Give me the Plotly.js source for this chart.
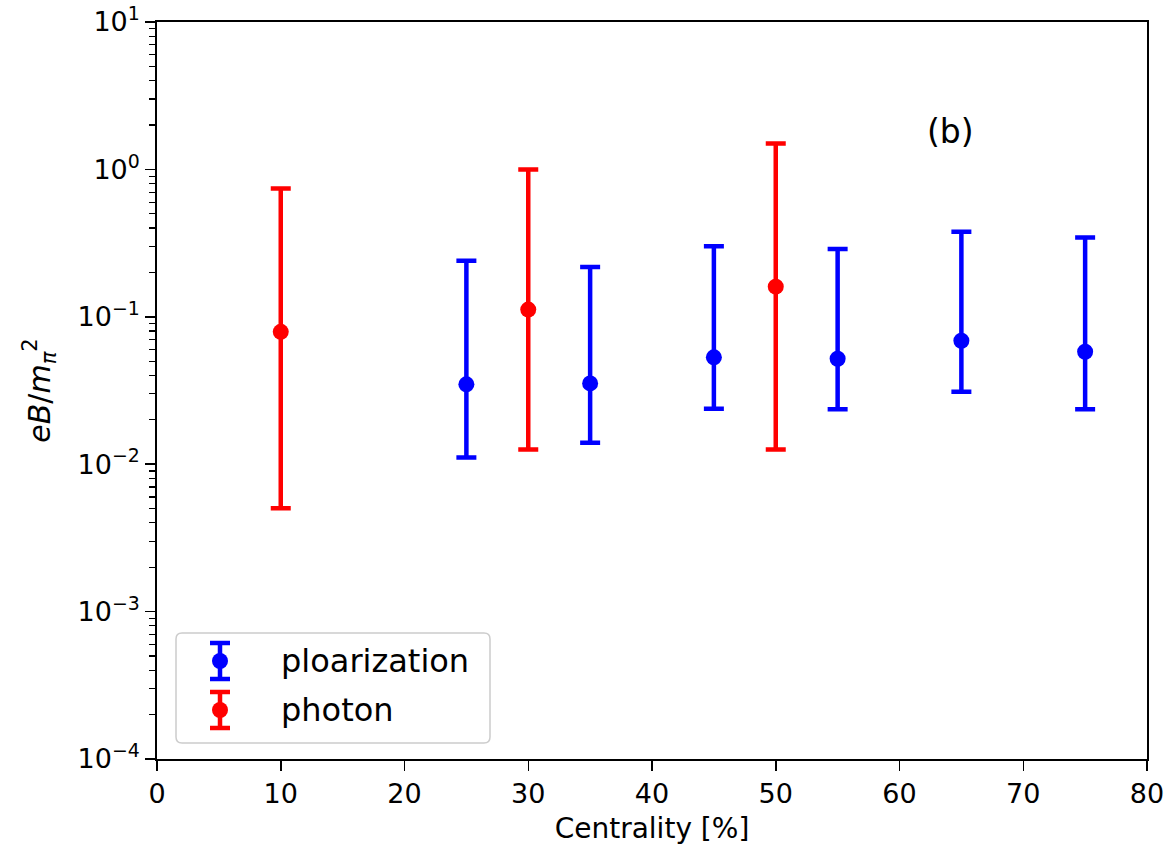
<!DOCTYPE html>
<html>
<head>
<meta charset="utf-8">
<script src="https://cdn.plot.ly/plotly-3.0.1.min.js"></script>
<style>html,body{margin:0;padding:0;background:#fff;}#chart{width:1166px;height:847px;}</style>
</head>
<body>
<div id="chart"></div>
<script>
// Data
const polCentrality = [25, 35, 45, 55, 65, 75];
const polValue      = [0.0348, 0.0353, 0.0531, 0.0519, 0.0688, 0.0579];
const polUpper      = [0.240, 0.218, 0.301, 0.288, 0.377, 0.345];
const polLower      = [0.0111, 0.0140, 0.0238, 0.0236, 0.0310, 0.0236];

const phoCentrality = [10, 30, 50];
const phoValue      = [0.0791, 0.112, 0.160];
const phoUpper      = [0.742, 1.0, 1.50];
const phoLower      = [0.00502, 0.0126, 0.0126];

const seriesNames  = ['ploarization', 'photon'];
const seriesColors = ['#0000ff', '#ff0000'];

const yTickVals  = [1e-4, 1e-3, 1e-2, 1e-1, 1, 10];
const yTickText  = ['10<sup>−4</sup>', '10<sup>−3</sup>', '10<sup>−2</sup>', '10<sup>−1</sup>', '10<sup>0</sup>', '10<sup>1</sup>'];
const xTickVals  = [0, 10, 20, 30, 40, 50, 60, 70, 80];

const minorVals = [];
for (let e = -4; e < 1; e++) for (let m = 2; m <= 9; m++) minorVals.push(m * Math.pow(10, e));

function errTrace(name, x, y, up, lo, color) {
  return {
    type: 'scatter', mode: 'markers', name: name,
    x: x, y: y,
    marker: {color: color, size: 16},
    error_y: {
      type: 'data', symmetric: false,
      array: y.map((v, i) => up[i] - v),
      arrayminus: y.map((v, i) => v - lo[i]),
      color: color, thickness: 4.5, width: 10
    }
  };
}

const traces = [
  errTrace(seriesNames[0], polCentrality, polValue, polUpper, polLower, seriesColors[0]),
  errTrace(seriesNames[1], phoCentrality, phoValue, phoUpper, phoLower, seriesColors[1])
];

// ---- hand-drawn legend (paper coordinates from pixel positions) ----
const PL = 157, PR = 1147, PT = 22, PB = 759;
const px = v => (v - PL) / (PR - PL);
const py = v => (PB - v) / (PB - PT);

function roundRect(x0, y0, x1, y1, r) {
  const rx = r / (PR - PL), ry = r / (PB - PT);
  const X0 = px(x0), X1 = px(x1), Y0 = py(y0), Y1 = py(y1);
  return `M ${X0 + rx},${Y0} L ${X1 - rx},${Y0} Q ${X1},${Y0} ${X1},${Y0 - ry} ` +
         `L ${X1},${Y1 + ry} Q ${X1},${Y1} ${X1 - rx},${Y1} L ${X0 + rx},${Y1} ` +
         `Q ${X0},${Y1} ${X0},${Y1 + ry} L ${X0},${Y0 - ry} Q ${X0},${Y0} ${X0 + rx},${Y0} Z`;
}

const shapes = [{
  type: 'path', xref: 'paper', yref: 'paper', path: roundRect(176, 633, 490, 743, 6),
  line: {color: '#cccccc', width: 1.5}, fillcolor: 'rgba(255,255,255,0.8)', layer: 'above'
}];
const annotations = [];
const legendRows = [661, 710];
legendRows.forEach((cy, i) => {
  const c = seriesColors[i], cx = 220;
  shapes.push({type: 'line', xref: 'paper', yref: 'paper', x0: px(cx), x1: px(cx), y0: py(cy - 18), y1: py(cy + 18), line: {color: c, width: 4.5}, layer: 'above'});
  shapes.push({type: 'line', xref: 'paper', yref: 'paper', x0: px(cx - 10), x1: px(cx + 10), y0: py(cy - 18), y1: py(cy - 18), line: {color: c, width: 4.5}, layer: 'above'});
  shapes.push({type: 'line', xref: 'paper', yref: 'paper', x0: px(cx - 10), x1: px(cx + 10), y0: py(cy + 18), y1: py(cy + 18), line: {color: c, width: 4.5}, layer: 'above'});
  shapes.push({type: 'circle', xref: 'paper', yref: 'paper', x0: px(cx - 8), x1: px(cx + 8), y0: py(cy - 8), y1: py(cy + 8), line: {width: 0}, fillcolor: c, layer: 'above'});
  annotations.push({xref: 'paper', yref: 'paper', x: px(279), y: py(cy), xanchor: 'left', yanchor: 'middle',
    text: seriesNames[i], showarrow: false, font: {family: 'DejaVu Sans, sans-serif', size: 32, color: '#000'}});
});

annotations.push({
  xref: 'x', yref: 'paper', x: 64.1, y: py(131), xanchor: 'center', yanchor: 'middle',
  text: '(b)', showarrow: false, font: {family: 'DejaVu Sans, sans-serif', size: 33, color: '#000'}
});

const font = 'DejaVu Sans, sans-serif';
const layout = {
  width: 1166, height: 847,
  margin: {l: 157, r: 19, t: 22, b: 88},
  paper_bgcolor: '#fff', plot_bgcolor: '#fff',
  font: {family: font, color: '#000', size: 27},
  showlegend: false,
  xaxis: {
    range: [0, 80], tickmode: 'array', tickvals: xTickVals,
    ticks: 'outside', ticklen: 10, tickwidth: 1.5, tickcolor: '#000',
    showline: true, linecolor: '#000', linewidth: 1.8, mirror: true,
    showgrid: false, zeroline: false,
    tickfont: {family: font, size: 27},
    title: {text: 'Centrality [%]', font: {family: font, size: 28}, standoff: 10}
  },
  yaxis: {
    type: 'log', range: [-4, 1],
    tickmode: 'array', tickvals: yTickVals, ticktext: yTickText,
    ticks: 'outside', ticklen: 10, tickwidth: 1.5, tickcolor: '#000',
    minor: {tickmode: 'array', tickvals: minorVals, ticks: 'outside', ticklen: 6, tickwidth: 1.2, tickcolor: '#000', showgrid: false},
    showline: true, linecolor: '#000', linewidth: 1.8, mirror: true,
    showgrid: false, zeroline: false,
    tickfont: {family: font, size: 27},
    title: {text: '<i>eB</i>/<i>m</i><sub><i>π</i></sub><sup>2</sup>', font: {family: font, size: 30}, standoff: 18}
  },
  shapes: shapes,
  annotations: annotations
};

Plotly.newPlot('chart', traces, layout, {displayModeBar: false, staticPlot: true});
</script>
</body>
</html>
